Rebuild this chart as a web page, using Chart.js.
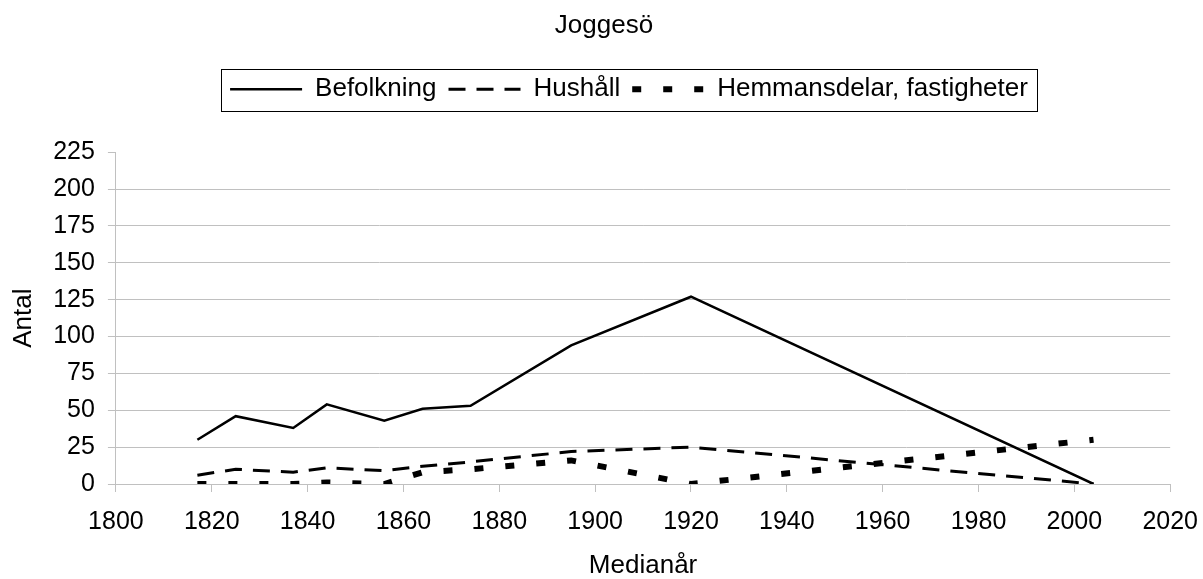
<!DOCTYPE html>
<html>
<head>
<meta charset="utf-8">
<script src="https://cdn.jsdelivr.net/npm/chart.js@4"></script>
<style>
  body { margin: 0; background: #fff; }
  #wrap { width: 1203px; height: 579px; }
</style>
</head>
<body>
<div id="wrap"><canvas id="joggesoChart"></canvas></div>
<script>
// ==================== DATA ====================
const years = [1817, 1825, 1837, 1844, 1856, 1864, 1874, 1895, 1920, 2004];
const befolkning = [30, 46, 38, 54, 43, 51, 53, 94, 127, 0];
const hushall = [6, 10, 8, 11, 9, 12, 15, 22, 25, 0];
const hemmansdelar = [0, 0, 0, 1, 0, 8, 10, 16, 0, 30];
const xTicks = [1800, 1820, 1840, 1860, 1880, 1900, 1920, 1940, 1960, 1980, 2000, 2020];
const yTicks = [0, 25, 50, 75, 100, 125, 150, 175, 200, 225];

const toPoints = vals => years.map((y, i) => ({ x: y, y: vals[i] }));

// ==================== HELPERS ====================
const GRID = '#c0c0c0';
const FONT = "'Liberation Sans', Arial, sans-serif";

// legend: extra space below, a frame round it, and nudged to the right like the original
const legendTweaks = {
  id: 'legendTweaks',
  beforeInit(chart) {
    const fit = chart.legend.fit;
    chart.legend.fit = function () {
      fit.call(this);
      this.height += 40;
    };
  },
  afterLayout(chart) {
    chart.titleBlock.left += 18;
    chart.titleBlock.right += 18;
    chart.legend.left += 43;
    chart.legend.right += 43;
  },
  afterDraw(chart) {
    const lg = chart.legend;
    const pad = lg.options.labels.padding;
    const w = lg.lineWidths[0] - pad;
    const cx = (lg.left + lg.right) / 2;
    const cy = lg.top + pad + 13;
    const ctx = chart.ctx;
    ctx.save();
    ctx.strokeStyle = '#000';
    ctx.lineWidth = 1;
    ctx.setLineDash([]);
    ctx.strokeRect(Math.round(cx - w / 2 - 9) + 0.5, Math.round(cy - 20.5) + 0.5, Math.round(w + 18), 42);
    ctx.restore();
  }
};

// legend samples keep the dataset's dash pattern
const legendLabels = chart =>
  Chart.defaults.plugins.legend.labels.generateLabels(chart).map(item => {
    const ds = chart.data.datasets[item.datasetIndex];
    return { ...item, lineDash: ds.borderDash || [], lineWidth: ds.borderWidth };
  });

// ==================== CHART ====================
Chart.defaults.font.family = FONT;
Chart.defaults.color = '#000';

new Chart(document.getElementById('joggesoChart'), {
  type: 'line',
  data: {
    datasets: [
      {
        label: 'Befolkning',
        data: toPoints(befolkning),
        borderColor: '#000',
        backgroundColor: '#000',
        borderWidth: 2.5,
        pointRadius: 0,
        pointStyle: 'line',
        tension: 0
      },
      {
        label: 'Hushåll',
        data: toPoints(hushall),
        borderColor: '#000',
        backgroundColor: '#000',
        borderWidth: 3,
        borderDash: [17, 11],
        pointRadius: 0,
        pointStyle: 'line',
        tension: 0
      },
      {
        label: 'Hemmansdelar, fastigheter',
        data: toPoints(hemmansdelar),
        borderColor: '#000',
        backgroundColor: '#000',
        borderWidth: 6,
        borderDash: [9, 22],
        pointRadius: 0,
        pointStyle: 'line',
        tension: 0
      }
    ]
  },
  options: {
    responsive: true,
    maintainAspectRatio: false,
    animation: false,
    layout: { padding: { left: 0, right: 31, top: 0, bottom: 0 } },
    plugins: {
      title: {
        display: true,
        text: 'Joggesö',
        color: '#000',
        font: { size: 26, weight: 'normal' },
        padding: { top: 10, bottom: 23 }
      },
      legend: {
        position: 'top',
        labels: {
          usePointStyle: true,
          pointStyleWidth: 72,
          padding: 12,
          color: '#000',
          font: { size: 26 },
          generateLabels: legendLabels
        }
      },
      tooltip: { enabled: false }
    },
    scales: {
      x: {
        type: 'linear',
        min: xTicks[0],
        max: xTicks[xTicks.length - 1],
        afterBuildTicks: axis => { axis.ticks = xTicks.map(v => ({ value: v })); },
        ticks: {
          color: '#000',
          font: { size: 25, lineHeight: 2.04 },
          padding: 5,
          maxRotation: 0,
          callback: v => String(v)
        },
        grid: { drawOnChartArea: false, drawTicks: true, tickLength: 8, color: GRID },
        border: { display: true, color: GRID },
        title: {
          display: true,
          text: 'Medianår',
          color: '#000',
          font: { size: 26, lineHeight: 1 },
          padding: { top: 0, bottom: 0 }
        }
      },
      y: {
        min: yTicks[0],
        max: yTicks[yTicks.length - 1],
        afterBuildTicks: axis => { axis.ticks = yTicks.map(v => ({ value: v })); },
        ticks: {
          color: '#000',
          font: { size: 25, lineHeight: 1 },
          padding: 13
        },
        grid: {
          color: c => (c.tick && c.tick.value === 225 ? 'rgba(0,0,0,0)' : GRID),
          tickColor: GRID,
          tickLength: 8
        },
        border: { display: true, color: GRID },
        title: {
          display: true,
          text: 'Antal',
          color: '#000',
          font: { size: 26 },
          padding: { top: 8, bottom: 1 }
        }
      }
    }
  },
  plugins: [legendTweaks]
});
</script>
</body>
</html>
